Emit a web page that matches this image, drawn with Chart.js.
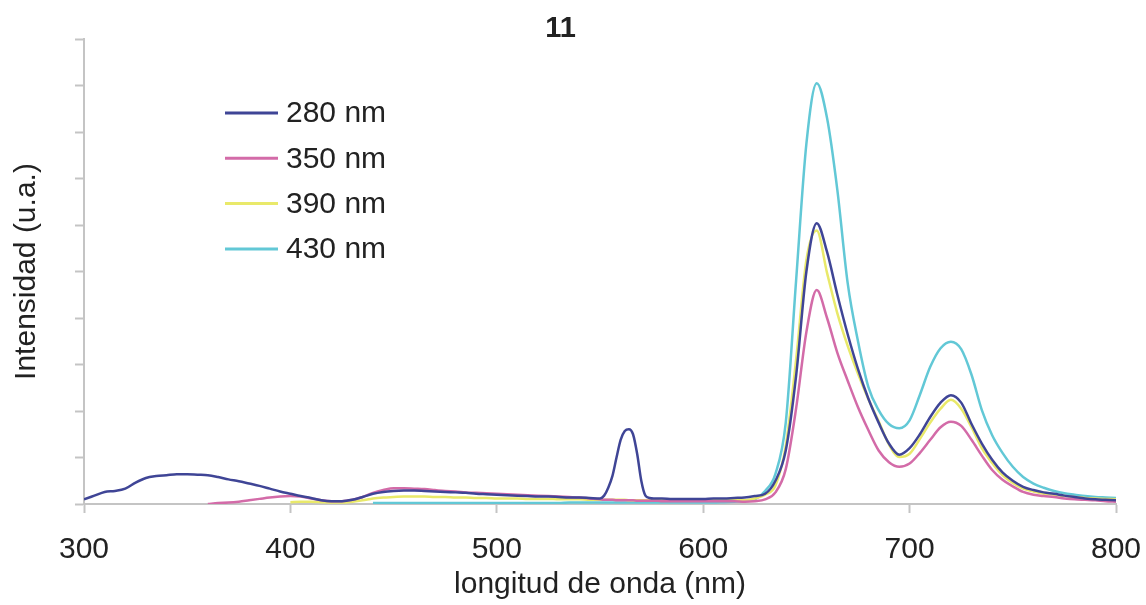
<!DOCTYPE html>
<html>
<head>
<meta charset="utf-8">
<script src="https://cdn.jsdelivr.net/npm/chart.js@4.4.0/dist/chart.umd.min.js"></script>
<style>
  html, body { margin: 0; padding: 0; background: #fff; }
  #wrap { width: 1146px; height: 605px; }
</style>
</head>
<body>
<div id="wrap"><canvas id="chart"></canvas></div>
<script>
// wavelength grid (nm)
const wavelengths = [
  300,305,310,315,320,325,330,335,340,345,
  350,355,360,365,370,375,380,385,390,395,
  400,405,410,415,420,425,430,435,440,445,
  450,455,460,465,470,475,480,485,490,495,
  500,505,510,515,520,525,530,535,540,545,
  550,
  552,554,556,558,560,562,564,566,568,570,572,574,576,578,
  580,585,590,595,600,605,610,615,620,625,
  630,635,640,645,650,655,660,665,670,675,
  680,685,690,695,700,705,710,715,720,725,
  730,735,740,745,750,755,760,765,770,775,
  780,785,790,795,800
];

const series280 = [
  0.10,0.18,0.26,0.28,0.33,0.46,0.56,0.60,0.62,0.64,
  0.64,0.63,0.62,0.58,0.53,0.49,0.44,0.39,0.33,0.27,
  0.22,0.17,0.13,0.08,0.06,0.06,0.09,0.15,0.22,0.26,
  0.28,0.29,0.29,0.28,0.27,0.26,0.25,0.24,0.22,0.21,
  0.20,0.19,0.18,0.17,0.16,0.16,0.15,0.14,0.14,0.13,
  0.12,
  0.18,0.35,0.60,1.00,1.38,1.57,1.61,1.50,1.08,0.50,0.18,0.13,0.12,0.12,
  0.12,0.11,0.11,0.11,0.11,0.12,0.12,0.13,0.14,0.17,
  0.22,0.50,1.15,2.75,5.00,6.04,5.42,4.50,3.65,2.90,
  2.27,1.75,1.30,1.06,1.20,1.50,1.87,2.18,2.34,2.18,
  1.72,1.30,0.95,0.68,0.50,0.37,0.30,0.25,0.22,0.18,
  0.15,0.12,0.10,0.09,0.08
];

const series350 = [
  null,null,null,null,null,null,null,null,null,null,
  null,null,0.00,0.02,0.03,0.05,0.08,0.11,0.14,0.16,
  0.17,0.16,0.12,0.08,0.06,0.06,0.09,0.15,0.24,0.30,
  0.34,0.34,0.33,0.32,0.30,0.28,0.27,0.25,0.24,0.23,
  0.22,0.21,0.20,0.19,0.18,0.17,0.16,0.15,0.14,0.12,
  0.10,
  0.09,0.09,0.09,0.08,0.08,0.08,0.08,0.08,0.07,0.07,0.07,0.07,0.07,0.07,
  0.06,0.06,0.06,0.06,0.06,0.06,0.06,0.06,0.05,0.06,
  0.10,0.25,0.75,2.05,3.70,4.60,4.00,3.25,2.65,2.08,
  1.59,1.15,0.90,0.80,0.87,1.10,1.38,1.65,1.77,1.68,
  1.38,1.04,0.73,0.52,0.38,0.26,0.20,0.17,0.15,0.12,
  0.10,0.09,0.08,0.06,0.05
];

const series390 = [
  null,null,null,null,null,null,null,null,null,null,
  null,null,null,null,null,null,null,null,null,null,
  0.04,0.05,0.05,0.04,0.03,0.03,0.05,0.08,0.12,0.14,
  0.15,0.16,0.16,0.16,0.15,0.15,0.14,0.14,0.13,0.13,
  0.12,0.12,0.12,0.11,0.11,0.11,0.10,0.10,0.10,0.09,
  0.09,
  0.09,0.09,0.09,0.09,0.09,0.09,0.08,0.08,0.08,0.08,0.08,0.08,0.08,0.08,
  0.08,0.08,0.08,0.08,0.08,0.08,0.08,0.08,0.08,0.12,
  0.20,0.40,1.25,3.10,5.25,5.88,4.97,4.10,3.40,2.80,
  2.26,1.78,1.28,1.01,1.08,1.40,1.75,2.05,2.24,2.05,
  1.65,1.20,0.88,0.62,0.45,0.33,0.27,0.22,0.20,0.17,
  0.15,0.13,0.12,0.11,0.10
];

const series430 = [
  null,null,null,null,null,null,null,null,null,null,
  null,null,null,null,null,null,null,null,null,null,
  null,null,null,null,null,null,null,null,0.02,0.02,
  0.02,0.02,0.02,0.02,0.02,0.02,0.02,0.02,0.02,0.02,
  0.02,0.02,0.02,0.02,0.02,0.02,0.02,0.03,0.03,0.03,
  0.03,
  0.03,0.03,0.03,0.03,0.03,0.03,0.03,0.03,0.03,0.03,0.03,0.03,0.03,0.03,
  0.03,0.03,0.03,0.03,0.03,0.03,0.04,0.05,0.06,0.10,
  0.28,0.65,1.75,4.80,7.75,9.05,8.30,6.75,4.75,3.50,
  2.52,2.02,1.72,1.63,1.80,2.35,2.95,3.35,3.49,3.33,
  2.78,2.02,1.48,1.10,0.80,0.58,0.44,0.35,0.28,0.23,
  0.20,0.17,0.15,0.14,0.13
];

const seriesLabels = ['280 nm', '350 nm', '390 nm', '430 nm'];
const seriesColors = ['#3f4596', '#d36ba8', '#e9e96a', '#62c8d6'];
const xTicks = [300, 400, 500, 600, 700, 800];

const allSeries = [series280, series350, series390, series430];

const font = "'Liberation Sans', Arial, sans-serif";
const axisGray = '#c4c4c4';

// legend drawn inside the plot area, upper left
const insideLegend = {
  id: 'insideLegend',
  afterDraw(chart) {
    const ctx = chart.ctx;
    ctx.save();
    ctx.font = '30px ' + font;
    ctx.textBaseline = 'middle';
    ctx.textAlign = 'left';
    chart.data.datasets.forEach((ds, i) => {
      const y = 113 + i * 45.3;
      ctx.strokeStyle = ds.borderColor;
      ctx.lineWidth = 3;
      ctx.beginPath();
      ctx.moveTo(225, y);
      ctx.lineTo(278, y);
      ctx.stroke();
      ctx.fillStyle = '#222';
      ctx.fillText(ds.label, 286, y + 1);
    });
    ctx.restore();
  }
};

const ctx = document.getElementById('chart').getContext('2d');
new Chart(ctx, {
  type: 'line',
  data: {
    datasets: allSeries.map((s, i) => ({
      label: seriesLabels[i],
      data: wavelengths.map((w, j) => ({ x: w, y: s[j] })),
      borderColor: seriesColors[i],
      borderWidth: 2.5,
      pointRadius: 0,
      fill: false,
      cubicInterpolationMode: 'monotone',
      spanGaps: false
    }))
  },
  options: {
    responsive: true,
    maintainAspectRatio: false,
    animation: false,
    layout: { padding: { left: 5, right: 30, top: 0, bottom: 0 } },
    plugins: {
      legend: { display: false },
      tooltip: { enabled: false },
      title: {
        display: true,
        text: '11',
        color: '#222',
        font: { family: font, size: 29, weight: 'bold', lineHeight: 1 },
        padding: { top: 14, bottom: -4 }
      }
    },
    scales: {
      x: {
        type: 'linear',
        min: 300,
        max: 800,
        afterBuildTicks: (scale) => { scale.ticks = xTicks.map(v => ({ value: v })); },
        afterFit: (scale) => { scale.paddingLeft = 0; scale.paddingRight = 0; },
        ticks: {
          color: '#222',
          font: { family: font, size: 30 },
          padding: 19
        },
        grid: { drawOnChartArea: false, tickLength: 9, tickColor: axisGray, tickWidth: 2 },
        border: { color: axisGray, width: 2 },
        title: {
          display: true,
          text: 'longitud de onda (nm)',
          color: '#222',
          font: { family: font, size: 30, lineHeight: 1.2 },
          padding: { top: -20, bottom: 2 }
        }
      },
      y: {
        min: 0,
        max: 10,
        ticks: { display: false, stepSize: 1 },
        grid: { drawOnChartArea: false, tickLength: 9, tickColor: axisGray, tickWidth: 2 },
        border: { color: axisGray, width: 2 },
        title: {
          display: true,
          text: 'Intensidad (u.a.)',
          color: '#222',
          font: { family: font, size: 30, lineHeight: 1.2 },
          padding: { top: 4, bottom: 30 }
        }
      }
    }
  },
  plugins: [insideLegend]
});
</script>
</body>
</html>
